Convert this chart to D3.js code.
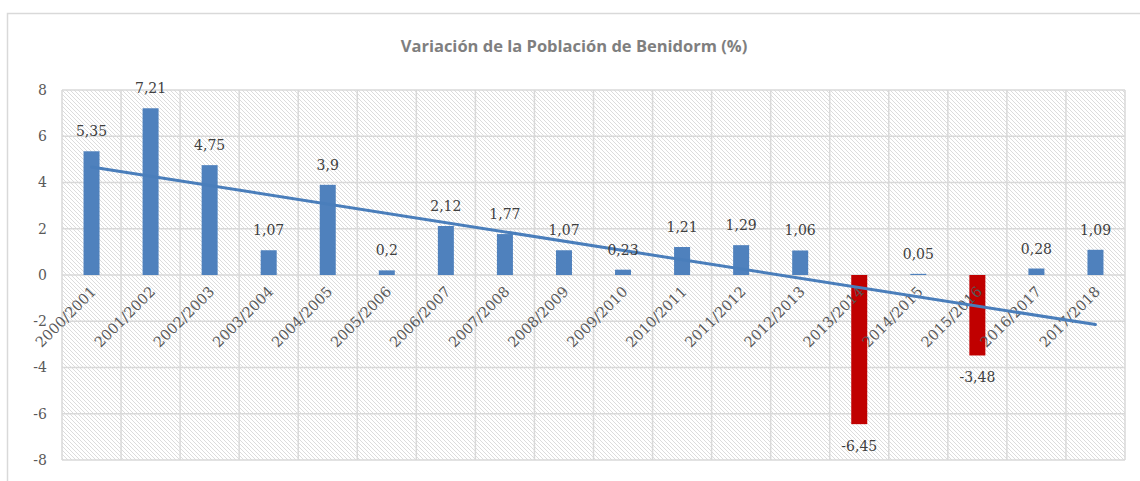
<!DOCTYPE html>
<html>
<head>
<meta charset="utf-8">
<script src="https://cdn.jsdelivr.net/npm/d3@7"></script>
<style>
  body { margin: 0; background: #fff; }
  svg { display: block; }
</style>
</head>
<body>
<svg width="1140" height="481"></svg>
<script>
;(function (d3) {
  var categories = ['2000/2001', '2001/2002', '2002/2003', '2003/2004', '2004/2005', '2005/2006',
    '2006/2007', '2007/2008', '2008/2009', '2009/2010', '2010/2011', '2011/2012', '2012/2013',
    '2013/2014', '2014/2015', '2015/2016', '2016/2017', '2017/2018']
  var values = [5.35, 7.21, 4.75, 1.07, 3.9, 0.2, 2.12, 1.77, 1.07, 0.23, 1.21, 1.29, 1.06,
    -6.45, 0.05, -3.48, 0.28, 1.09]
  var yTicks = [-8, -6, -4, -2, 0, 2, 4, 6, 8]

  var svg = d3.select('svg')
  var grid = '#d9d9d9'
  var serif = '"DejaVu Serif", serif'

  // hatch fill for the plot area
  var pat = svg.append('defs').append('pattern')
    .attr('id', 'hatch')
    .attr('patternUnits', 'userSpaceOnUse')
    .attr('width', 4).attr('height', 4)
  pat.append('path')
    .attr('d', 'M-1,-1 L5,5 M-1,3 L1,5 M3,-1 L5,1')
    .style('stroke', '#dcdcdc')
    .style('stroke-width', 1)

  // outer chart border
  svg.append('path')
    .attr('d', 'M7.5,481 L7.5,13.5 L1140,13.5')
    .style('fill', 'none')
    .style('stroke', grid)
    .style('stroke-width', 1.5)

  svg.append('text')
    .attr('x', 574).attr('y', 52)
    .attr('text-anchor', 'middle')
    .style('font-family', '"Open Sans", sans-serif')
    .style('font-weight', 'bold')
    .style('font-size', '16.5px')
    .style('fill', '#7f7f7f')
    .text('Variación de la Población de Benidorm (%)')

  var left = 62
  var right = 1125
  var top = 90
  var bottom = 460

  var x = d3.scaleBand().domain(categories).range([left, right]).paddingInner(0).paddingOuter(0)
  var y = d3.scaleLinear().domain([-8, 8]).range([bottom, top])

  svg.append('rect')
    .attr('x', left).attr('y', top)
    .attr('width', right - left).attr('height', bottom - top)
    .style('fill', 'url(#hatch)')

  // grid
  svg.append('g').selectAll('line.h')
    .data(yTicks)
    .enter().append('line')
    .attr('x1', left).attr('x2', right)
    .attr('y1', function (d) { return y(d) }).attr('y2', function (d) { return y(d) })
    .style('stroke', grid).style('stroke-width', 1.5)

  svg.append('g').selectAll('line.v')
    .data(categories.concat(['end']))
    .enter().append('line')
    .attr('x1', function (d, i) { return left + i * x.bandwidth() })
    .attr('x2', function (d, i) { return left + i * x.bandwidth() })
    .attr('y1', top).attr('y2', bottom)
    .style('stroke', grid).style('stroke-width', 1.5)

  // y axis labels
  var yAxis = svg.append('g')
    .attr('transform', 'translate(' + (left - 15) + ',0)')
    .call(d3.axisLeft(y).tickValues(yTicks).tickSize(0).tickPadding(0)
      .tickFormat(function (d) { return String(d) }))
  yAxis.select('.domain').remove()
  yAxis.selectAll('text')
    .style('font-family', serif)
    .style('font-size', '14px')
    .style('fill', '#595959')

  // bars
  var bw = 16
  svg.append('g').selectAll('rect')
    .data(values)
    .enter().append('rect')
    .attr('x', function (d, i) { return x(categories[i]) + x.bandwidth() / 2 - bw / 2 })
    .attr('y', function (d) { return y(Math.max(0, d)) })
    .attr('width', bw)
    .attr('height', function (d) { return Math.abs(y(d) - y(0)) })
    .style('fill', function (d) { return d < 0 ? '#c00000' : '#4f81bd' })

  // category labels, rotated
  svg.append('g').selectAll('text')
    .data(categories)
    .enter().append('text')
    .attr('transform', function (d) {
      return 'translate(' + (x(d) + x.bandwidth() / 2 + 2) + ',' + (y(0) + 14) + ') rotate(-45)'
    })
    .attr('text-anchor', 'end')
    .attr('dy', '0.35em')
    .style('font-family', serif)
    .style('font-size', '14.5px')
    .style('fill', '#595959')
    .text(function (d) { return d })

  // linear trend line (least squares on the series)
  var n = values.length
  var mx = d3.mean(values, function (d, i) { return i })
  var my = d3.mean(values)
  var sxy = d3.sum(values, function (d, i) { return (i - mx) * (d - my) })
  var sxx = d3.sum(values, function (d, i) { return (i - mx) * (i - mx) })
  var slope = sxy / sxx
  var icpt = my - slope * mx
  var trend = [0, n - 1].map(function (i) { return {c: categories[i], v: icpt + slope * i} })

  var ln = d3.line()
    .x(function (d) { return x(d.c) + x.bandwidth() / 2 })
    .y(function (d) { return y(d.v) })

  svg.append('path')
    .datum(trend)
    .attr('d', ln)
    .style('fill', 'none')
    .style('stroke', '#4a7ebb')
    .style('stroke-width', 3)
    .style('stroke-linecap', 'round')

  // data labels
  svg.append('g').selectAll('text')
    .data(values)
    .enter().append('text')
    .attr('x', function (d, i) { return x(categories[i]) + x.bandwidth() / 2 })
    .attr('y', function (d) { return d < 0 ? y(d) + 27 : y(d) - 15 })
    .attr('text-anchor', 'middle')
    .style('font-family', serif)
    .style('font-size', '14px')
    .style('fill', '#404040')
    .text(function (d) { return String(d).replace('.', ',') })
})(window.d3)
</script>
</body>
</html>
